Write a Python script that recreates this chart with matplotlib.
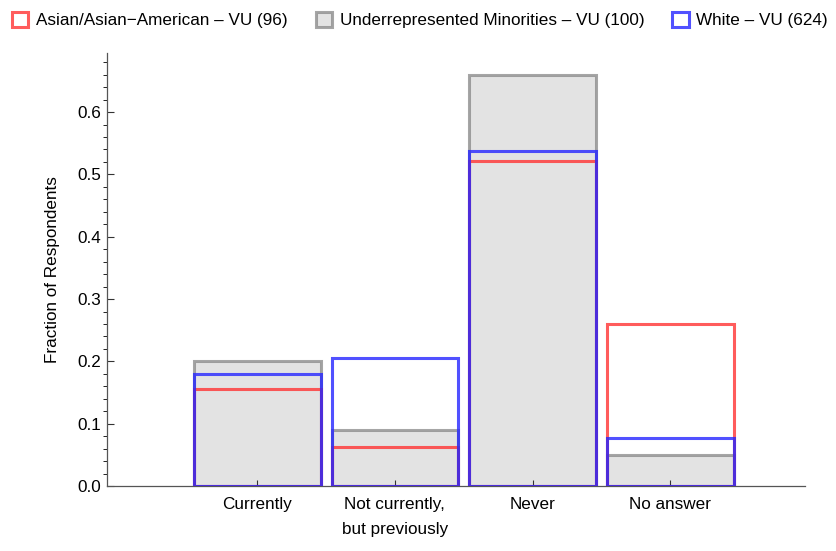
import matplotlib.pyplot as plt
from matplotlib.patches import Patch
from matplotlib.ticker import MultipleLocator

plt.rcParams['font.family'] = ['Liberation Sans', 'DejaVu Sans']

categories = ['Currently', 'Not currently,\nbut previously', 'Never', 'No answer']
asian = [0.156, 0.0625, 0.521, 0.260]
urm = [0.20, 0.09, 0.66, 0.05]
white = [0.180, 0.205, 0.538, 0.077]

labels = ['Asian/Asian\u2212American \u2013 VU (96)',
          'Underrepresented Minorities \u2013 VU (100)',
          'White \u2013 VU (624)']

red = (1.0, 0.2, 0.2, 0.8)
gray = (0.5, 0.5, 0.5, 0.7)
blue = (0.15, 0.15, 1.0, 0.8)
fill_gray = '#e3e3e3'

fs = 12.3

fig = plt.figure(figsize=(8.37, 5.51), dpi=100)
ax = fig.add_axes([0.128, 0.118, 0.834, 0.786])

x = [1, 2, 3, 4]
w = 0.92
lw = 2.2
ax.bar(x, urm, width=w, facecolor=fill_gray, edgecolor=gray, linewidth=lw, zorder=1)
ax.bar(x, asian, width=w, facecolor='none', edgecolor=red, linewidth=lw, zorder=2)
ax.bar(x, white, width=w, facecolor='none', edgecolor=blue, linewidth=lw, zorder=3)

ax.set_xlim(-0.09, 4.98)
ax.set_ylim(0, 0.695)
ax.set_xticks(x)
ax.set_xticklabels(categories, fontsize=fs, linespacing=1.8)
ax.yaxis.set_minor_locator(MultipleLocator(0.02))
ax.set_yticks([0.0, 0.1, 0.2, 0.3, 0.4, 0.5, 0.6])
ax.set_yticklabels(['0.0', '0.1', '0.2', '0.3', '0.4', '0.5', '0.6'], fontsize=fs)
ax.tick_params(axis='both', direction='in', color='#333333')
ax.tick_params(axis='y', which='major', length=5, width=0.8, pad=4)
ax.tick_params(axis='y', which='minor', length=3, width=0.6)
ax.tick_params(axis='x', length=4, width=0.8, pad=8)
ax.set_ylabel('Fraction of Respondents', fontsize=fs, labelpad=13)

for s in ['top', 'right']:
    ax.spines[s].set_visible(False)
for s in ['left', 'bottom']:
    ax.spines[s].set_color('#555555')
    ax.spines[s].set_linewidth(0.9)

handles = [Patch(facecolor='white', edgecolor=red, linewidth=2.2),
           Patch(facecolor=fill_gray, edgecolor=gray, linewidth=2.2),
           Patch(facecolor='white', edgecolor=blue, linewidth=2.2)]
fig.legend(handles, labels, loc='upper left', bbox_to_anchor=(0.0, 1.0), ncol=3,
           frameon=False, fontsize=fs, handlelength=0.95, handleheight=0.95,
           handletextpad=0.45, columnspacing=1.65, borderaxespad=0.3)

fig.savefig('out.png', dpi=100)
